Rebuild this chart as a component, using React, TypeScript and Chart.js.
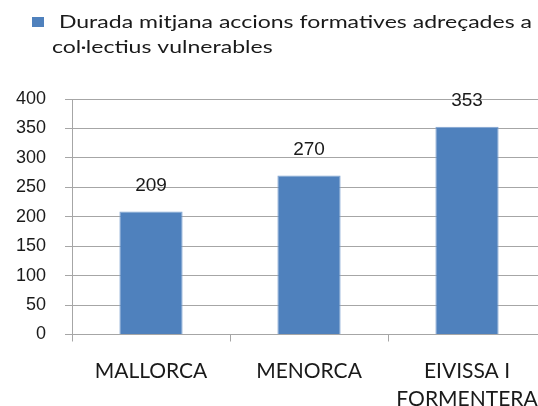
import React, { useEffect, useRef } from "react";
import { Chart, registerables } from "chart.js";

Chart.register(...registerables);

const categories: string[][] = [["MALLORCA"], ["MENORCA"], ["EIVISSA I", "FORMENTERA"]];
const values: number[] = [209, 270, 353];
const seriesName = "Durada mitjana accions formatives adreçades a col·lectius vulnerables";
const legendLines: string[] = [" Durada mitjana accions formatives adreçades a", "col·lectius vulnerables"];
const yMin = 0;
const yMax = 400;
const yStep = 50;

const BAR_COLOR = "#4F81BD";
const GRID_COLOR = "#A6A6A6";
const CANVAS_W = 560;
const CANVAS_H = 440;

export default function App() {
  const ref = useRef<HTMLCanvasElement | null>(null);

  useEffect(() => {
    document.body.style.margin = "0";
    const canvas = ref.current;
    if (!canvas) return;

    const legendPlugin = {
      id: "customLegend",
      afterDraw(chart: any) {
        const ctx = chart.ctx as CanvasRenderingContext2D;
        ctx.save();
        ctx.fillStyle = BAR_COLOR;
        ctx.fillRect(32, 17, 12, 10);
        ctx.fillStyle = "#1a1a1a";
        ctx.font = "18px Lato";
        ctx.textBaseline = "alphabetic";
        ctx.textAlign = "left";
        const w1 = ctx.measureText(legendLines[0]).width;
        const sx = 479 / w1;
        ctx.save();
        ctx.translate(53, 28);
        ctx.scale(sx, 1);
        ctx.fillText(legendLines[0], 0, 0);
        ctx.restore();
        ctx.save();
        ctx.translate(52, 53);
        ctx.scale(sx, 1);
        ctx.fillText(legendLines[1], 0, 0);
        ctx.restore();
        ctx.restore();
      },
    };

    const dataLabels = {
      id: "dataLabels",
      afterDatasetsDraw(chart: any) {
        const ctx = chart.ctx as CanvasRenderingContext2D;
        const meta = chart.getDatasetMeta(0);
        ctx.save();
        ctx.fillStyle = "#1a1a1a";
        ctx.font = "19px 'Liberation Sans', Arial";
        ctx.textAlign = "center";
        ctx.textBaseline = "middle";
        meta.data.forEach((bar: any, i: number) => {
          ctx.fillText(String(values[i]), bar.x, bar.y - 26);
        });
        ctx.restore();
      },
    };

    const chart = new Chart(canvas, {
      type: "bar",
      data: {
        labels: categories,
        datasets: [
          {
            label: seriesName,
            data: values,
            backgroundColor: BAR_COLOR,
            borderColor: "#7FA3D1",
            borderWidth: 1,
            categoryPercentage: 1,
            barPercentage: 0.4,
          },
        ],
      },
      options: {
        responsive: false,
        animation: false,
        layout: { padding: { top: 99, right: 14, left: 0, bottom: 0 } },
        plugins: {
          legend: { display: false },
          tooltip: { enabled: false },
        },
        scales: {
          x: {
            grid: {
              offset: true,
              drawOnChartArea: false,
              drawTicks: true,
              tickLength: 7,
              color: GRID_COLOR,
            },
            border: { color: GRID_COLOR },
            ticks: {
              color: "#1a1a1a",
              font: { family: "Lato", size: 21, lineHeight: 1.33 },
              padding: 16,
              maxRotation: 0,
              autoSkip: false,
            },
            afterFit(scale: any) {
              scale.height = CANVAS_H - 334.5;
            },
          },
          y: {
            min: yMin,
            max: yMax,
            grid: {
              color: GRID_COLOR,
              tickLength: 7,
            },
            border: { color: GRID_COLOR },
            ticks: {
              stepSize: yStep,
              color: "#1a1a1a",
              font: { family: "'Liberation Sans', Arial", size: 18 },
              padding: 19,
            },
            afterFit(scale: any) {
              scale.width = 72;
            },
          },
        },
      },
      plugins: [legendPlugin, dataLabels],
    });

    return () => chart.destroy();
  }, []);

  return (
    <div style={{ position: "fixed", left: 0, top: 0, width: CANVAS_W, height: CANVAS_H, background: "#fff" }}>
      <canvas ref={ref} width={CANVAS_W} height={CANVAS_H} style={{ display: "block" }} />
    </div>
  );
}
